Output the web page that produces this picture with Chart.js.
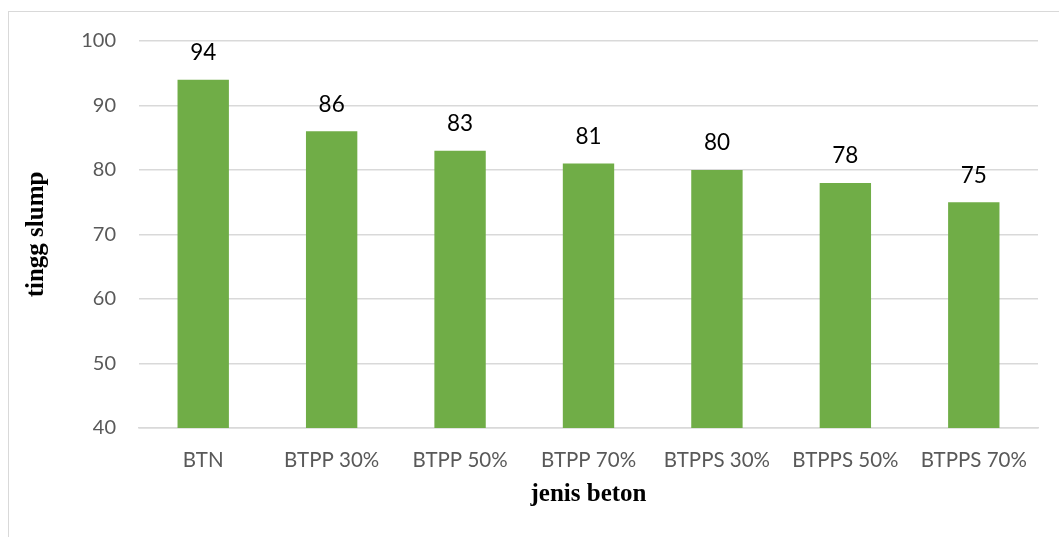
<!DOCTYPE html>
<html>
<head>
<meta charset="utf-8">
<script src="https://cdn.jsdelivr.net/npm/chart.js@4.4.1/dist/chart.umd.min.js"></script>
<style>
html,body{margin:0;padding:0;background:#fff;}
#wrap{position:absolute;left:0;top:0;width:1059px;height:537px;}
#frame{position:absolute;left:8px;top:11px;width:1100px;height:600px;border-left:1px solid #D9D9D9;border-top:1px solid #D9D9D9;}
canvas{position:absolute;left:0;top:0;}
</style>
</head>
<body>
<div id="wrap"><div id="frame"></div><canvas id="c" width="1059" height="537"></canvas></div>
<script>
const categories = ["BTN","BTPP 30%","BTPP 50%","BTPP 70%","BTPPS 30%","BTPPS 50%","BTPPS 70%"];
const slumpValues = [94,86,83,81,80,78,75];
const yMin = 40, yMax = 100, yStep = 10;
const yTitle = "tingg slump";
const xTitle = "jenis beton";

const dataLabels = {
  id:'dataLabels',
  afterDatasetsDraw(chart){
    const ctx = chart.ctx;
    const meta = chart.getDatasetMeta(0);
    ctx.save();
    ctx.font = '22.5px Lato';
    ctx.fillStyle = '#000';
    ctx.textAlign = 'center';
    ctx.textBaseline = 'middle';
    meta.data.forEach((bar,i)=>{
      ctx.fillText(String(slumpValues[i]), bar.x, bar.y - 27);
    });
    ctx.restore();
  }
};

new Chart(document.getElementById('c'), {
  type:'bar',
  data:{labels:categories, datasets:[{data:slumpValues, backgroundColor:'#70AD47', categoryPercentage:0.4, barPercentage:1.0}]},
  options:{
    responsive:false, animation:false,
    layout:{padding:{left:20, top:41, right:21, bottom:0}},
    plugins:{legend:{display:false}, tooltip:{enabled:false}},
    scales:{
      x:{
        grid:{display:false, drawTicks:false},
        border:{display:true, color:'#D9D9D9', width:1.5},
        ticks:{color:'#595959', font:{family:'Lato', size:20.5}, padding:20, maxRotation:0, autoSkip:false},
        title:{display:true, text:xTitle, color:'#000', font:{family:'Liberation Serif', size:25, weight:'bold'}, padding:{top:0,bottom:27}},
        afterFit(s){ s.height = 109; }
      },
      y:{
        min:yMin, max:yMax,
        grid:{color:'#D9D9D9', lineWidth:1.5, drawTicks:false},
        border:{display:false},
        ticks:{stepSize:yStep, color:'#595959', font:{family:'Lato', size:20}, padding:23},
        title:{display:true, text:yTitle, color:'#000', font:{family:'Liberation Serif', size:25, weight:'bold'}, padding:{top:2,bottom:0}},
        afterFit(s){ s.width = 119; }
      }
    }
  },
  plugins:[dataLabels]
});
</script>
</body>
</html>
